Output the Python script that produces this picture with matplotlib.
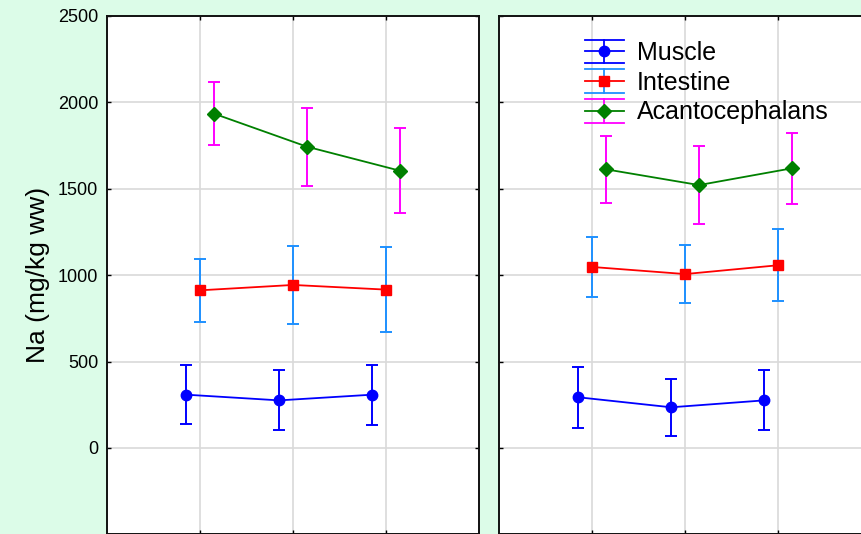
import matplotlib
matplotlib.use("Agg")
import matplotlib.pyplot as plt
from matplotlib.legend_handler import HandlerBase
from matplotlib.lines import Line2D

# Na concentration (mg/kg ww), mean and SD per sampling period, two sites
periods = [1, 2, 3]
series_names = ["Muscle", "Intestine", "Acantocephalans"]

left_muscle = [308, 275, 308]
left_muscle_sd = [172, 174, 174]
left_intestine = [912, 943, 916]
left_intestine_sd = [182, 225, 246]
left_acanto = [1934, 1743, 1604]
left_acanto_sd = [183, 225, 245]

right_muscle = [293, 235, 275]
right_muscle_sd = [175, 166, 174]
right_intestine = [1047, 1006, 1057]
right_intestine_sd = [176, 166, 208]
right_acanto = [1612, 1521, 1618]
right_acanto_sd = [193, 224, 207]

yticks = [0, 500, 1000, 1500, 2000, 2500]

# style per series: line colour, error bar colour, marker, marker size, x shift
styles = [
    ("#0000ff", "#0000ff", "o", 7.5, -0.15),
    ("#ff0000", "#1e90ff", "s", 7.5, 0.0),
    ("#008000", "#ff00ff", "D", 7.0, 0.15),
]

BG = "#dcfce8"
FONT = "Liberation Sans"
plt.rcParams["font.family"] = [FONT, "DejaVu Sans"]


class ErrKey:
    def __init__(self, color, ecolor, marker, ms):
        self.color = color
        self.ecolor = ecolor
        self.marker = marker
        self.ms = ms


class ErrHandler(HandlerBase):
    # line + marker with a vertical error bar and full-width caps
    def create_artists(self, legend, h, xdescent, ydescent, width, height,
                       fontsize, trans):
        x0, x1 = -xdescent, -xdescent + width
        yc = -ydescent + height / 2
        xc = (x0 + x1) / 2
        half = 8.5  # points, about 12 px
        arts = [
            Line2D([x0, x1], [yc + half] * 2, color=h.ecolor, lw=1.3),
            Line2D([x0, x1], [yc - half] * 2, color=h.ecolor, lw=1.3),
            Line2D([xc, xc], [yc - half, yc + half], color=h.ecolor, lw=1.3),
            Line2D([x0, x1], [yc, yc], color=h.color, lw=1.3),
            Line2D([xc], [yc], marker=h.marker, ms=h.ms, color=h.color,
                   markeredgecolor=h.color, linestyle="none"),
        ]
        for a in arts:
            a.set_transform(trans)
        return arts


fig = plt.figure(figsize=(8.62, 5.34), dpi=100, facecolor=BG)
ax1 = fig.add_axes([107.3 / 862, -0.3 / 534, 371.6 / 862, 518.4 / 534])
ax2 = fig.add_axes([499.3 / 862, -0.3 / 534, 371.6 / 862, 518.4 / 534])

panels = [
    (ax1, [(left_muscle, left_muscle_sd), (left_intestine, left_intestine_sd),
           (left_acanto, left_acanto_sd)]),
    (ax2, [(right_muscle, right_muscle_sd), (right_intestine, right_intestine_sd),
           (right_acanto, right_acanto_sd)]),
]

for ax, data in panels:
    ax.set_facecolor("white")
    for (vals, sd), (col, ecol, mk, ms, dx) in zip(data, styles):
        xs = [p + dx for p in periods]
        ax.errorbar(xs, vals, yerr=sd, fmt="none", ecolor=ecol,
                    elinewidth=1.4, capsize=4, capthick=1.4, zorder=3)
        ax.plot(xs, vals, color=col, lw=1.3, marker=mk, ms=ms,
                markeredgecolor=col, zorder=4)
    ax.set_xlim(0, 4)
    ax.set_ylim(-500, 2500)
    ax.set_xticks(periods)
    ax.set_xticklabels([])
    ax.set_yticks([-500] + yticks)
    ax.grid(True, color="#d9d9d9", lw=1.2, zorder=0)
    ax.set_axisbelow(True)
    ax.tick_params(direction="in", length=3, width=1, color="black",
                   top=True, right=True, labelsize=13, pad=6.5)
    for s in ax.spines.values():
        s.set_linewidth(1.4)
        s.set_color("#111111")

ax1.set_yticklabels([""] + [str(t) for t in yticks])
ax2.set_yticklabels([])
ax1.set_ylabel("Na (mg/kg ww)", fontsize=19, labelpad=6)

keys = [ErrKey(c, e, m, ms) for c, e, m, ms, _ in styles]
ax2.legend(keys, series_names, handler_map={ErrKey: ErrHandler()},
           loc="upper left", bbox_to_anchor=(585 / 862, 1 - 40.5 / 534),
           bbox_transform=fig.transFigure, frameon=False, fontsize=18,
           handlelength=1.56, handleheight=0.96, handletextpad=0.52,
           labelspacing=0.21, borderpad=0, borderaxespad=0)

fig.savefig("out.png", dpi=100, facecolor=BG)
